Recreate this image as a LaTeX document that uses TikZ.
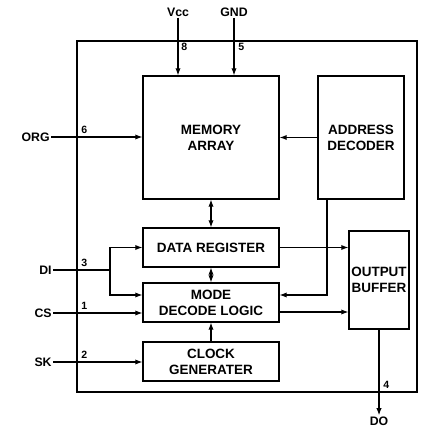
\documentclass[tikz,border=0pt]{standalone}
\usepackage{fontspec}
\setmainfont{Liberation Sans}
\usetikzlibrary{arrows.meta,calc,positioning}

\begin{document}
\begin{tikzpicture}[x=.03cm,y=.03cm,font=\bfseries\fontsize{11.5}{13.5}\selectfont,
    blk/.style={draw,line width=1.2pt,align=center,inner sep=0pt},
    wire/.style={line width=.9pt},
    sig/.style={wire,-{Latex[length=6pt,width=4.5pt]}},
    dsig/.style={wire,{Latex[length=6pt,width=4.5pt]}-{Latex[length=6pt,width=4.5pt]}},
    pinno/.style={font=\bfseries\fontsize{9}{10}\selectfont,inner sep=1pt},
    pad/.style={font=\bfseries\fontsize{10.5}{12}\selectfont,inner sep=1pt}]
  \useasboundingbox (0,0) rectangle (432,432);
  \draw[line width=1.7pt] (77,40) rectangle (417,391);
  % blocks
  \node[blk,minimum width=4.08cm,minimum height=3.69cm] (mem) at (211,294.5) {MEMORY\\ARRAY};
  \node[blk,minimum width=2.58cm,minimum height=3.69cm] (addr) at (361,294.5) {ADDRESS\\DECODER};
  \node[blk,minimum width=4.08cm,minimum height=1.17cm] (data) at (211,184.5) {DATA REGISTER};
  \node[blk,minimum width=4.08cm,minimum height=1.17cm] (mode) at (211,129.5) {MODE\\DECODE LOGIC};
  \node[blk,minimum width=4.08cm,minimum height=1.17cm] (clk) at (211,70.5) {CLOCK\\GENERATER};
  \node[blk,minimum width=1.8cm,minimum height=2.94cm] (obuf) at (379,152) {OUTPUT\\BUFFER};
  % pads
  \node[pad] (vcc) at (178,420) {Vcc};
  \node[pad] (gnd) at (234,420) {GND};
  \node[pad,anchor=east] (org) at (51,295) {ORG};
  \node[pad,anchor=east] (di) at (53,162) {DI};
  \node[pad,anchor=east] (cs) at (53,119) {CS};
  \node[pad,anchor=east] (sk) at (53,70) {SK};
  \node[pad] (do) at (379,11) {DO};
  \foreach \t/\x/\y in {8/180/380,5/237/380,6/80/297,3/80/164,1/80/121,2/80/72,4/382/42}
    \node[pinno,anchor=south west] (pin\t) at (\x,\y) {\t};
  % connections
  \coordinate (dj) at (110,162);
  \coordinate (mi) at ($(mode.west)+(0,7.5)$);
  \coordinate (ad) at ($(addr.south)+(-34,0)$);
  \coordinate (ma) at ($(mode.east)+(0,7.5)$);
  \coordinate (mo) at ($(mode.east)+(0,-9.5)$);
  \draw[sig] (vcc) -- (vcc |- mem.north);
  \draw[sig] (gnd) -- (gnd |- mem.north);
  \draw[sig] (org) -- (org -| mem.west);
  \draw[sig] (addr.west) -- (mem.east);
  \draw[dsig] (mem.south) -- (data.north);
  \draw[dsig] (data.south) -- (mode.north);
  \draw[sig] (clk.north) -- (mode.south);
  \draw[wire] (di) -- (dj);
  \draw[sig] (dj) |- (data.west);
  \draw[sig] (dj) |- (mi);
  \draw[sig] (cs) -- (cs -| mode.west);
  \draw[sig] (sk) -- (sk -| clk.west);
  \draw[sig] (ad) |- (ma);
  \draw[sig] (data.east) -- (data.east -| obuf.west);
  \draw[sig] (mo) -- (mo -| obuf.west);
  \draw[sig] (obuf.south) -- (do);
\end{tikzpicture}
\end{document}
